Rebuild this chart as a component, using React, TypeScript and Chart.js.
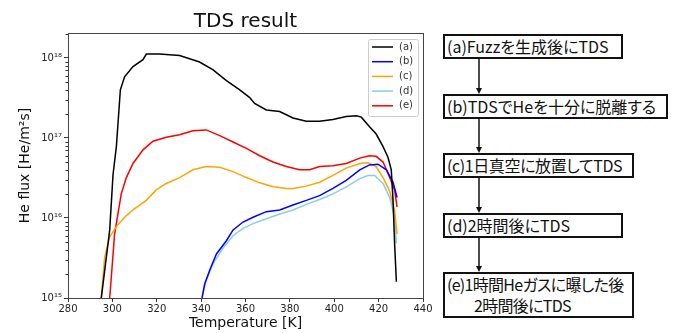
import React, { useEffect, useRef } from "react";
import { Chart, registerables } from "chart.js";

Chart.register(...registerables);

// ---- data ----
const seriesLabels = ["(a)", "(b)", "(c)", "(d)", "(e)"];
const seriesColors = ["#000000", "#0000ff", "#ffa500", "#87ceeb", "#ff0000"];

const tempA = [295.0, 298.8, 300.3, 301.8, 303.6, 305.5, 309.3, 313.8, 315.3, 321.3, 330.3, 339.3, 345.4, 351.4, 357.4, 361.9, 364.1, 369.4, 375.4, 381.4, 387.4, 393.4, 399.4, 405.4, 409.9, 412.2, 415.9, 418.9, 422.0, 424.2, 425.7, 426.5, 427.2, 428.0];
const fluxA = [1.0e15, 7.1e15, 3.5e16, 7.8e16, 4.0e17, 5.8e17, 7.8e17, 9.5e17, 1.12e18, 1.12e18, 1.07e18, 8.9e17, 7.1e17, 5.2e17, 4.0e17, 3.2e17, 2.7e17, 2.24e17, 2.14e17, 1.78e17, 1.62e17, 1.62e17, 1.7e17, 1.86e17, 1.9e17, 1.82e17, 1.38e17, 1.12e17, 7.8e16, 5.75e16, 4.0e16, 1.66e16, 4.8e15, 1.6e15];

const tempB = [340.4, 341.6, 343.9, 346.9, 351.4, 354.4, 358.9, 363.4, 369.4, 375.4, 381.4, 387.4, 393.4, 399.4, 405.4, 411.5, 415.9, 419.7, 423.5, 426.5, 428.3];
const fluxB = [1.0e15, 1.5e15, 2.24e15, 3.55e15, 5.2e15, 7.1e15, 8.9e15, 1.02e16, 1.2e16, 1.26e16, 1.45e16, 1.66e16, 1.9e16, 2.34e16, 2.95e16, 4.0e16, 4.6e16, 4.7e16, 4.0e16, 2.8e16, 1.8e16];

const tempC = [295.0, 296.5, 298.8, 301.8, 305.5, 309.3, 315.3, 319.8, 324.3, 330.3, 336.3, 342.3, 348.4, 354.4, 360.4, 366.4, 372.4, 378.4, 381.4, 387.4, 393.4, 399.4, 405.4, 411.5, 415.2, 418.9, 422.0, 425.0, 427.2, 428.3];
const fluxC = [1.0e15, 3.2e15, 5.8e15, 7.8e15, 1.02e16, 1.26e16, 1.66e16, 2.24e16, 2.7e16, 3.2e16, 4.0e16, 4.4e16, 4.3e16, 3.8e16, 3.2e16, 2.75e16, 2.45e16, 2.34e16, 2.34e16, 2.5e16, 2.8e16, 3.4e16, 4.2e16, 4.8e16, 4.9e16, 4.4e16, 3.2e16, 2.14e16, 1.26e16, 6.3e15];

const tempD = [340.4, 342.3, 345.4, 349.9, 354.4, 358.9, 363.4, 369.4, 375.4, 381.4, 387.4, 393.4, 399.4, 405.4, 411.5, 415.2, 418.2, 422.0, 425.0, 427.2, 428.0];
const fluxD = [1.0e15, 1.66e15, 2.7e15, 4.2e15, 6.0e15, 7.4e15, 8.5e15, 9.8e15, 1.12e16, 1.26e16, 1.48e16, 1.7e16, 2.0e16, 2.45e16, 3.1e16, 3.4e16, 3.4e16, 2.7e16, 1.8e16, 1.02e16, 4.8e15];

const tempE = [298.8, 301.0, 304.0, 306.3, 309.3, 313.8, 318.3, 324.3, 330.3, 336.3, 342.3, 348.4, 354.4, 360.4, 366.4, 372.4, 378.4, 384.4, 388.9, 393.4, 399.4, 405.4, 411.5, 415.9, 418.9, 422.0, 425.0, 427.2, 428.3];
const fluxE = [1.0e15, 6.3e15, 2.0e16, 3.2e16, 4.8e16, 7.1e16, 9.1e16, 1.02e17, 1.1e17, 1.23e17, 1.26e17, 1.07e17, 8.9e16, 7.4e16, 6.0e16, 5.0e16, 4.4e16, 4.0e16, 4.0e16, 4.4e16, 4.5e16, 4.8e16, 5.6e16, 6.0e16, 5.9e16, 5.0e16, 3.2e16, 2.24e16, 1.38e16];

const seriesTemps = [tempA, tempB, tempC, tempD, tempE];
const seriesFluxes = [fluxA, fluxB, fluxC, fluxD, fluxE];

const xTicks = [280, 300, 320, 340, 360, 380, 400, 420, 440];
const yMajorExponents = [15, 16, 17, 18];

const chartTitle = "TDS result";
const xTitle = "Temperature [K]";
const yTitle = "He flux [He/m²s]";

const steps = [
  ["(a)Fuzzを生成後にTDS"],
  ["(b)TDSでHeを十分に脱離する"],
  ["(c)1日真空に放置してTDS"],
  ["(d)2時間後にTDS"],
  ["(e)1時間Heガスに曝した後", "2時間後にTDS"],
];

const SUP: Record<string, string> = { "0": "⁰", "1": "¹", "2": "²", "3": "³", "4": "⁴", "5": "⁵", "6": "⁶", "7": "⁷", "8": "⁸", "9": "⁹" };
const supText = (n: number) => String(n).split("").map((c) => SUP[c] || c).join("");

const FONT = "'DejaVu Sans', sans-serif";

// layout of flowchart boxes
const boxes = [
  { top: 34, height: 25, width: 180, spacing: 0 },
  { top: 94, height: 25, width: 225, spacing: 0 },
  { top: 153, height: 25, width: 191, spacing: -0.4 },
  { top: 213, height: 25, width: 180, spacing: 0 },
  { top: 272, height: 46, width: 191, spacing: -0.7 },
];

const framePlugin = {
  id: "framePlugin",
  afterDraw(chart: any) {
    const { ctx, chartArea } = chart;
    const { left, right, top, bottom } = chartArea;
    ctx.save();
    // minor ticks on y
    const ys = chart.scales.y;
    ctx.strokeStyle = "#333";
    ctx.lineWidth = 1;
    for (let e = 14; e <= 19; e++) {
      for (let k = 2; k <= 9; k++) {
        const v = k * Math.pow(10, e);
        if (v < ys.min || v > ys.max) continue;
        const py = Math.round(ys.getPixelForValue(v)) + 0.5;
        ctx.beginPath();
        ctx.moveTo(left - 2.5, py);
        ctx.lineTo(left, py);
        ctx.stroke();
      }
    }
    // frame
    ctx.strokeStyle = "#444";
    ctx.lineWidth = 1;
    ctx.strokeRect(Math.round(left) + 0.5, Math.round(top) + 0.5, Math.round(right - left), Math.round(bottom - top));
    // title
    ctx.fillStyle = "#111";
    ctx.font = `20px ${FONT}`;
    ctx.textAlign = "center";
    ctx.textBaseline = "alphabetic";
    ctx.fillText(chartTitle, (left + right) / 2, 27);
    // legend
    const lx = 368, ly = 39, lw = 50, lh = 77;
    ctx.fillStyle = "rgba(255,255,255,0.85)";
    ctx.strokeStyle = "#cccccc";
    ctx.beginPath();
    if (ctx.roundRect) ctx.roundRect(lx + 0.5, ly + 0.5, lw, lh, 2);
    else ctx.rect(lx + 0.5, ly + 0.5, lw, lh);
    ctx.fill();
    ctx.stroke();
    ctx.font = `10px ${FONT}`;
    ctx.textAlign = "left";
    ctx.textBaseline = "middle";
    chart.data.datasets.forEach((ds: any, i: number) => {
      const y = 47 + i * 14.7;
      ctx.strokeStyle = ds.borderColor;
      ctx.lineWidth = 1.5;
      ctx.beginPath();
      ctx.moveTo(372, y);
      ctx.lineTo(393, y);
      ctx.stroke();
      ctx.fillStyle = "#333";
      ctx.fillText(ds.label, 399, y);
    });
    ctx.restore();
  },
};

function TdsChart() {
  const ref = useRef<HTMLCanvasElement | null>(null);
  useEffect(() => {
    if (!ref.current) return;
    const datasets = seriesLabels.map((label, i) => ({
      label,
      data: seriesTemps[i].map((t, j) => ({ x: t, y: seriesFluxes[i][j] })),
      borderColor: seriesColors[i],
      backgroundColor: seriesColors[i],
      borderWidth: 1.5,
      pointRadius: 0,
      tension: 0,
      fill: false,
    }));
    const chart = new Chart(ref.current, {
      type: "line",
      data: { datasets },
      options: {
        animation: false,
        responsive: false,
        devicePixelRatio: 1,
        layout: { padding: { top: 33, right: 17, left: 0, bottom: 0 } },
        plugins: { legend: { display: false }, title: { display: false }, tooltip: { enabled: false } },
        scales: {
          x: {
            type: "linear",
            min: 280,
            max: 440,
            afterBuildTicks: (scale: any) => {
              scale.ticks = xTicks.map((v) => ({ value: v }));
            },
            afterFit: (scale: any) => {
              scale.height = 35;
            },
            ticks: { font: { family: FONT, size: 10 }, color: "#222", padding: 1, maxRotation: 0 },
            grid: { drawOnChartArea: false, drawTicks: true, tickLength: 4, color: "#333", tickColor: "#333" },
            border: { display: false },
            title: { display: true, text: xTitle, font: { family: FONT, size: 14 }, color: "#111", padding: { top: 0, bottom: 1 } },
          },
          y: {
            type: "logarithmic",
            min: 1e15,
            max: 2.05e18,
            afterBuildTicks: (scale: any) => {
              scale.ticks = yMajorExponents.map((e) => ({ value: Math.pow(10, e) }));
            },
            afterFit: (scale: any) => {
              scale.width = 68;
            },
            ticks: {
              font: { family: FONT, size: 10 },
              color: "#222",
              padding: 2,
              callback: (v: any) => "10" + supText(Math.round(Math.log10(Number(v)))),
            },
            grid: { drawOnChartArea: false, drawTicks: true, tickLength: 4, color: "#333", tickColor: "#333" },
            border: { display: false },
            title: { display: true, text: yTitle, font: { family: FONT, size: 14 }, color: "#111", padding: { top: 17, bottom: 0 } },
          },
        },
      },
      plugins: [framePlugin],
    });
    return () => chart.destroy();
  }, []);
  return <canvas ref={ref} width={440} height={333} style={{ position: "absolute", left: 0, top: 0, width: 440, height: 333 }} />;
}

function Flow() {
  const left = 443;
  const arrowX = 479;
  return (
    <>
      {boxes.map((b, i) => (
        <div
          key={"b" + i}
          style={{
            position: "absolute",
            left,
            top: b.top,
            width: b.width,
            height: b.height,
            boxSizing: "border-box",
            border: "2px solid #111",
            background: "#fff",
            fontFamily: "'Noto Sans CJK JP', sans-serif",
            fontFeatureSettings: '"palt"',
            fontSize: 16,
            letterSpacing: b.spacing,
            color: "#111",
            display: "flex",
            flexDirection: "column",
            justifyContent: "center",
            paddingLeft: 2,
            lineHeight: "21px",
            whiteSpace: "nowrap",
          }}
        >
          {steps[i].map((line, j) => (
            <div key={j} style={{ paddingLeft: j > 0 ? 27 : 0 }}>
              {line}
            </div>
          ))}
        </div>
      ))}
      <svg width={680} height={333} style={{ position: "absolute", left: 0, top: 0, pointerEvents: "none" }}>
        {boxes.slice(0, -1).map((b, i) => {
          const y1 = b.top + b.height;
          const y2 = boxes[i + 1].top;
          return (
            <g key={"a" + i}>
              <line x1={arrowX} y1={y1} x2={arrowX} y2={y2 - 2} stroke="#111" strokeWidth={1.5} />
              <polygon points={`${arrowX - 3},${y2 - 6} ${arrowX + 3},${y2 - 6} ${arrowX},${y2}`} fill="#111" />
            </g>
          );
        })}
      </svg>
    </>
  );
}

export default function App() {
  return (
    <div style={{ position: "fixed", left: 0, top: 0, width: 680, height: 333, background: "#fff", overflow: "hidden" }}>
      <TdsChart />
      <Flow />
    </div>
  );
}
